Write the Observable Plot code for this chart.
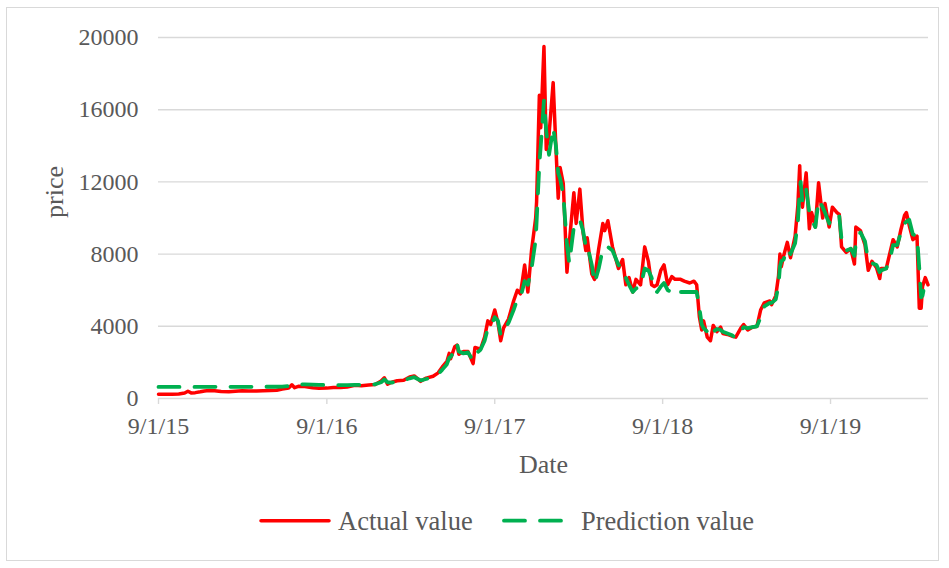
<!DOCTYPE html>
<html>
<head>
<meta charset="utf-8">
<script src="https://cdn.jsdelivr.net/npm/d3@7"></script>
<script src="https://cdn.jsdelivr.net/npm/@observablehq/plot@0.6"></script>
<style>
  html, body { margin: 0; padding: 0; background: #fff; }
  #wrap { position: relative; width: 949px; height: 568px; overflow: hidden; font-family: 'Liberation Serif', 'Times New Roman', serif; }
  #border { position: absolute; left: 6px; top: 7px; width: 933px; height: 554px; border: 1px solid #d9d9d9; box-sizing: border-box; }
  #chart { position: absolute; left: 0; top: 0; }
  #legend { position: absolute; left: 0; top: 495px; width: 949px; height: 50px; }
</style>
</head>
<body>
<div id="wrap">
  <div id="border"></div>
  <div id="chart"></div>
  <svg id="legend" width="949" height="50"></svg>
</div>
<script>
const dates = [
  "2015-09-01","2015-09-15","2015-10-01","2015-10-15","2015-10-28","2015-11-04","2015-11-11","2015-11-20","2015-12-01","2015-12-10",
  "2015-12-20","2016-01-01","2016-01-15","2016-02-01","2016-02-15","2016-03-01","2016-03-15","2016-04-01","2016-04-15","2016-05-01",
  "2016-05-15","2016-05-27","2016-06-10","2016-06-17","2016-06-23","2016-07-01","2016-07-15","2016-08-01","2016-08-15","2016-09-01",
  "2016-09-15","2016-10-01","2016-10-15","2016-11-01","2016-11-15","2016-12-01","2016-12-15","2016-12-28","2017-01-04","2017-01-11",
  "2017-01-20","2017-02-01","2017-02-15","2017-02-28","2017-03-10","2017-03-24","2017-04-05","2017-04-20","2017-05-01","2017-05-10",
  "2017-05-20","2017-05-25","2017-05-28","2017-06-06","2017-06-11","2017-06-15","2017-06-25","2017-07-05","2017-07-16","2017-07-20",
  "2017-08-01","2017-08-10","2017-08-17","2017-08-23","2017-09-01","2017-09-08","2017-09-14","2017-09-20","2017-10-01","2017-10-12",
  "2017-10-20","2017-10-27","2017-11-05","2017-11-12","2017-11-20","2017-11-29","2017-12-01","2017-12-07","2017-12-10","2017-12-17",
  "2017-12-22","2017-12-28","2018-01-06","2018-01-12","2018-01-17","2018-01-21","2018-01-28","2018-02-05","2018-02-10","2018-02-20",
  "2018-02-25","2018-03-05","2018-03-12","2018-03-18","2018-03-21","2018-03-31","2018-04-06","2018-04-15","2018-04-24","2018-04-28",
  "2018-05-05","2018-05-15","2018-05-28","2018-06-06","2018-06-13","2018-06-20","2018-06-28","2018-07-05","2018-07-15","2018-07-24",
  "2018-08-01","2018-08-08","2018-08-14","2018-08-20","2018-08-28","2018-09-04","2018-09-12","2018-09-21","2018-09-28","2018-10-10",
  "2018-10-18","2018-10-30","2018-11-08","2018-11-14","2018-11-20","2018-11-25","2018-11-29","2018-12-07","2018-12-14","2018-12-20",
  "2018-12-28","2019-01-05","2019-01-10","2019-01-20","2019-01-30","2019-02-07","2019-02-18","2019-02-24","2019-03-05","2019-03-15",
  "2019-03-25","2019-04-02","2019-04-10","2019-04-22","2019-04-26","2019-05-05","2019-05-11","2019-05-14","2019-05-17","2019-05-22",
  "2019-05-30","2019-06-06","2019-06-16","2019-06-22","2019-06-26","2019-06-28","2019-07-02","2019-07-10","2019-07-17","2019-07-22",
  "2019-07-30","2019-08-06","2019-08-15","2019-08-20","2019-08-29","2019-09-05","2019-09-15","2019-09-20","2019-09-25","2019-10-05",
  "2019-10-15","2019-10-23","2019-10-26","2019-11-05","2019-11-15","2019-11-22","2019-11-30","2019-12-10","2019-12-17","2019-12-20",
  "2019-12-31","2020-01-08","2020-01-15","2020-01-24","2020-02-01","2020-02-09","2020-02-13","2020-02-19","2020-02-27","2020-03-07",
  "2020-03-12","2020-03-16","2020-03-19","2020-03-25","2020-03-31"
];
const actualValue = [
  230,230,237,255,305,400,310,325,370,415,
  440,430,385,375,400,430,415,417,430,450,
  455,530,580,760,600,675,665,600,570,575,
  610,615,640,730,710,750,780,970,1150,790,
  900,980,1010,1190,1250,950,1130,1230,1420,1750,
  2050,2500,2200,2870,2960,2450,2600,2600,1930,2830,
  2730,3400,4300,4100,4900,4200,3200,3900,4400,5400,
  6000,5800,7400,5900,8200,10000,10900,16800,15000,19500,
  13800,14600,17500,13900,11100,12800,11900,7000,8600,11400,
  9700,11600,9200,8200,8900,6900,6600,8300,9700,9300,
  9850,8400,7200,7700,6300,6700,5900,6600,6300,8400,
  7600,6300,6200,6300,7100,7400,6300,6750,6600,6600,
  6500,6400,6500,6300,4500,3800,4300,3400,3200,4050,
  3700,3950,3600,3550,3450,3400,3900,4100,3800,3950,
  4000,4900,5300,5400,5200,5700,6800,8000,7300,7900,
  8650,7800,9000,10700,12900,11100,10600,12500,9400,10300,
  9500,11950,10000,10800,9500,10600,10300,10200,8400,8100,
  8300,7450,9500,9300,8500,7100,7600,7250,6650,7200,
  7200,8050,8800,8400,9350,10150,10300,9600,8800,9000,
  5000,5000,6200,6700,6300
];
const predictionValue = [
  640,640,640,640,640,640,640,640,640,640,
  645,645,645,645,645,645,645,645,650,650,
  650,660,690,740,780,780,780,770,760,740,
  740,740,745,760,750,760,790,900,1050,900,
  880,960,1000,1120,1180,1000,1080,1180,1350,1600,
  1900,2250,2300,2650,3050,2600,2500,2550,2100,2450,
  2700,3200,3900,4000,4500,4300,3500,3700,4200,4900,
  5500,5600,6500,6300,7200,8800,9800,13000,14000,16500,
  14800,13500,15000,14000,12500,12200,11300,8500,7500,9500,
  9600,9900,9300,8400,8500,7400,6400,7200,8300,8400,
  8400,8200,7400,7200,6700,6300,5900,6100,6200,7200,
  7100,6700,6000,5900,6200,6400,6000,5900,6100,5900,
  5900,5900,5900,5900,5000,4100,3900,3700,3400,3700,
  3850,3800,3700,3600,3500,3350,3700,3950,3900,3950,
  4000,4500,5100,5300,5300,5500,6300,7300,7600,7700,
  8300,8000,8600,9800,11500,12000,10900,11600,10300,9900,
  9500,11000,10600,10300,9700,10100,10200,10100,8800,8200,
  8300,7900,8600,9200,8700,7600,7500,7400,7000,7100,
  7200,7700,8500,8500,9200,9700,9800,9900,9100,9000,
  7200,5600,5700,6500,6600
];
const yTicks = [0, 4000, 8000, 12000, 16000, 20000];
const xTickDates = ["2015-09-01", "2016-09-01", "2017-09-01", "2018-09-01", "2019-09-01"];
const xTickLabels = ["9/1/15", "9/1/16", "9/1/17", "9/1/18", "9/1/19"];
const seriesNames = ["Actual value", "Prediction value"];
const xTitle = "Date";
const yTitle = "price";

const rows = dates.map((d, i) => ({date: new Date(d), actual: actualValue[i], prediction: predictionValue[i]}));
const tickDates = xTickDates.map(d => new Date(d));

const FONT = "'Liberation Serif', 'Times New Roman', serif";
const TEXT = "#595959";
const GRID = "#d9d9d9";
const RED = "#ff0000";
const GREEN = "#00b050";

const chart = Plot.plot({
  width: 949,
  height: 490,
  marginLeft: 158,
  marginRight: 21,
  marginTop: 37,
  marginBottom: 92,
  style: {fontFamily: FONT, fontSize: "24px", color: TEXT, background: "transparent", overflow: "visible"},
  x: {type: "utc", domain: [new Date("2015-09-01"), new Date("2020-04-01")]},
  y: {domain: [0, 20000]},
  marks: [
    Plot.gridY(yTicks.filter(v => v > 0), {stroke: GRID, strokeOpacity: 1, strokeWidth: 1.4}),
    Plot.ruleY([0], {stroke: GRID, strokeWidth: 1.5}),
    Plot.axisY({ticks: yTicks, tickSize: 0, tickPadding: 20, label: null, fill: TEXT, fontSize: 24, tickFormat: d => String(d)}),
    Plot.axisX({ticks: tickDates, tickSize: 6, tickPadding: 12, label: null, stroke: GRID, strokeWidth: 1.4, fill: TEXT, fontSize: 24,
      tickFormat: d => xTickLabels[tickDates.findIndex(t => +t === +d)]}),
    Plot.line(rows, {x: "date", y: "actual", stroke: RED, strokeWidth: 3.5, strokeLinejoin: "round", strokeLinecap: "round"}),
    Plot.line(rows, {x: "date", y: "prediction", stroke: GREEN, strokeWidth: 3.8, strokeDasharray: "21,15", strokeLinejoin: "round", strokeLinecap: "round"}),
    Plot.text([xTitle], {text: d => d, frameAnchor: "bottom", dy: 66, lineAnchor: "middle", fontSize: 26, fill: TEXT}),
    Plot.text([yTitle], {text: d => d, frameAnchor: "left", dx: -104, rotate: -90, lineAnchor: "middle", fontSize: 26, fill: TEXT})
  ]
});
document.getElementById("chart").appendChild(chart);

// Legend below the plot
const lg = d3.select("#legend");
const ly = 25.7;
lg.append("line").attr("x1", 261).attr("x2", 329).attr("y1", ly).attr("y2", ly)
  .attr("stroke", RED).attr("stroke-width", 3.5).attr("stroke-linecap", "round");
lg.append("text").attr("x", 338).attr("y", 35).attr("fill", TEXT)
  .attr("font-family", FONT).attr("font-size", 26.5).text(seriesNames[0]);
lg.append("line").attr("x1", 504).attr("x2", 563).attr("y1", ly).attr("y2", ly)
  .attr("stroke", GREEN).attr("stroke-width", 3.8).attr("stroke-linecap", "round").attr("stroke-dasharray", "21,15");
lg.append("text").attr("x", 581).attr("y", 35).attr("fill", TEXT)
  .attr("font-family", FONT).attr("font-size", 26.5).text(seriesNames[1]);
</script>
</body>
</html>
